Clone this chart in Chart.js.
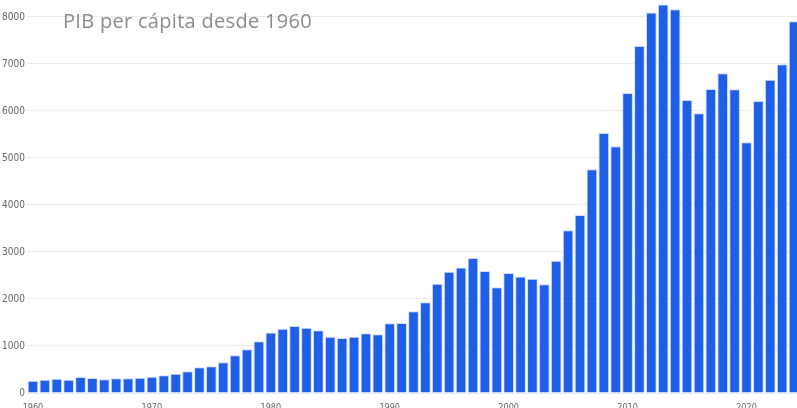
<!DOCTYPE html>
<html>
<head>
<meta charset="utf-8">
<script src="https://cdn.jsdelivr.net/npm/chart.js@4"></script>
<style>
  html, body { margin: 0; padding: 0; background: #fff; overflow: hidden; }
  #wrap { position: relative; width: 797px; height: 408px; overflow: hidden; }
  #title {
    position: absolute; left: 63px; top: 7px;
    font-family: "Open Sans", sans-serif; font-size: 20px; color: #8c8c8c;
    letter-spacing: 0.3px; white-space: nowrap;
  }
</style>
</head>
<body>
<div id="wrap">
  <canvas id="pibChart" width="800" height="408"></canvas>
  <div id="title">PIB per cápita desde 1960</div>
</div>
<script>
// años 1960 - 2024
const years = [];
for (let y = 1960; y <= 2024; y++) years.push(String(y));

// PIB per cápita (USD)
const pib = [
  262, 283, 304, 283, 340, 319, 291, 312, 312, 326,
  348, 376, 411, 461, 546, 567, 652, 801, 929, 1103,
  1288, 1368, 1426, 1390, 1334, 1198, 1170, 1198, 1270, 1248,
  1482, 1489, 1738, 1929, 2326, 2581, 2670, 2870, 2596, 2249,
  2553, 2480, 2430, 2313, 2815, 3462, 3787, 4760, 5532, 5249,
  6383, 7383, 8092, 8262, 8163, 6234, 5951, 6468, 6802, 6462,
  5334, 6213, 6666, 6994, 7908
];

const yTicks = [0, 1000, 2000, 3000, 4000, 5000, 6000, 7000, 8000];

document.addEventListener("DOMContentLoaded", function () {
  const ctx = document.getElementById('pibChart').getContext("2d");
  new Chart(ctx, {
    type: 'bar',
    data: {
      labels: years,
      datasets: [{
        label: 'PIB per cápita',
        data: pib,
        backgroundColor: '#1f5fe8',
        borderColor: 'rgba(200, 215, 250, 0.9)',
        borderWidth: 1,
        barPercentage: 0.9,
        categoryPercentage: 1.0
      }]
    },
    options: {
      responsive: false,
      animation: false,
      devicePixelRatio: 1,
      layout: { padding: 0 },
      plugins: {
        legend: { display: false },
        title: { display: false },
        tooltip: { enabled: false }
      },
      scales: {
        x: {
          grid: { display: false },
          border: { display: false },
          ticks: {
            autoSkip: false,
            maxRotation: 0,
            padding: 1,
            color: '#666',
            font: { family: '"Liberation Sans Narrow", "DejaVu Sans Condensed", sans-serif', size: 9 },
            callback: function (val, i) {
              const y = Number(years[i]);
              return y % 10 === 0 ? years[i] : '';
            }
          },
          afterFit: function (scale) {
            scale.height = 15;
            scale.paddingLeft = 0;
            scale.paddingRight = 0;
          }
        },
        y: {
          min: 0,
          max: 8360,
          border: { display: false },
          grid: { color: '#ebebeb', drawTicks: false, lineWidth: 1 },
          ticks: {
            stepSize: 1000,
            padding: 2,
            color: '#666',
            font: { family: '"Liberation Sans Narrow", "DejaVu Sans Condensed", sans-serif', size: 10 },
            callback: function (v) { return String(v); }
          },
          afterBuildTicks: function (axis) {
            axis.ticks = yTicks.map(v => ({ value: v }));
          },
          afterFit: function (scale) {
            scale.width = 27;
            scale.paddingTop = 0;
            scale.paddingBottom = 0;
          }
        }
      }
    }
  });
});
</script>
</body>
</html>
